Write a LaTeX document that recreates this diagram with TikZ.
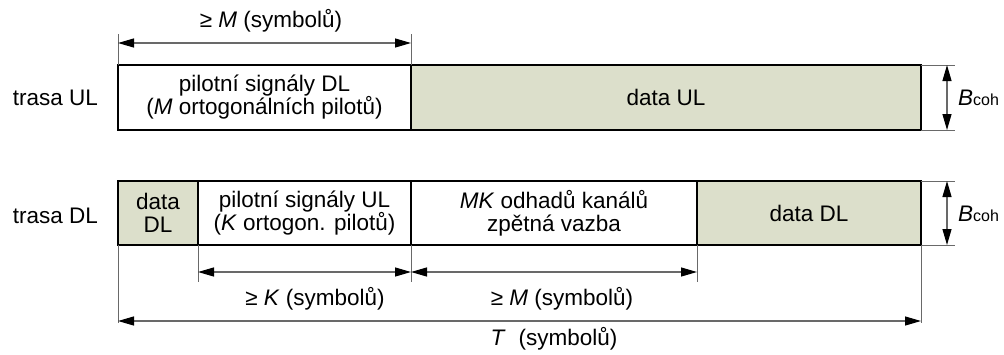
\documentclass[tikz,border=0pt]{standalone}
\usepackage{fontspec}
\setmainfont{Liberation Sans}
\usetikzlibrary{arrows.meta,calc}
\definecolor{datafill}{RGB}{220,223,203}
\definecolor{dimgray}{RGB}{105,105,105}
\begin{document}
\begin{tikzpicture}[x=1pt,y=-1pt,
  txt/.style={font=\fontsize{22.5}{23}\selectfont},
  box/.style={txt,draw=black,line width=2pt,anchor=north west,inner sep=0pt,outer sep=0pt,align=center},
  databox/.style={box,fill=datafill},
  lbl/.style={txt,inner sep=0pt},
  ext/.style={draw=dimgray,line width=1pt},
  dimarrow/.style={draw=dimgray,line width=1.2pt,{Triangle[length=16pt,width=9pt,black]}-{Triangle[length=16pt,width=9pt,black]}},
]
\useasboundingbox (0,0) rectangle (1004,354);

% UL row
\node[box,minimum width=293pt,minimum height=65pt] (ulp) at (118,65)
  {pilotní signály DL\\(\textit{M} ortogonálních pilotů)};
\node[databox,minimum width=510pt,minimum height=65pt] (uld) at (411,65) {data UL};

% DL row
\node[databox,minimum width=80pt,minimum height=64pt] (dla) at (118,181) {data\\DL};
\node[box,minimum width=213pt,minimum height=64pt] (dlp) at (198,181)
  {pilotní signály UL\\(\textit{K} ortogon. pilotů)};
\node[box,minimum width=286pt,minimum height=64pt] (mk) at (411,181)
  {\textit{MK} odhadů kanálů\\zpětná vazba};
\node[databox,minimum width=224pt,minimum height=64pt] (dlb) at (697,181) {data DL};

% row labels
\node[lbl,anchor=east] (tul) at ([xshift=-20pt]ulp.west) {trasa UL};
\node[lbl,anchor=east] (tdl) at ([xshift=-20pt,yshift=-3pt]dla.west) {trasa DL};

% top dimension
\draw[ext] (ulp.north west) -- ++(0,-31);
\draw[ext] (ulp.north east) -- ++(0,-31);
\draw[dimarrow] ([yshift=22pt]ulp.north west) -- ([yshift=22pt]ulp.north east);
\node[lbl,anchor=base] (lm1) at (271,27) {≥ \textit{M} (symbolů)};

% bottom dimensions
\draw[ext] (dla.south west) -- ++(0,78);
\draw[ext] (dlp.south west) -- ++(0,37);
\draw[ext] (mk.south west) -- ++(0,37);
\draw[ext] (mk.south east) -- ++(0,37);
\draw[ext] (dlb.south east) -- ++(0,78);
\draw[dimarrow] ([yshift=-27pt]dlp.south west) -- ([yshift=-27pt]dlp.south east);
\draw[dimarrow] ([yshift=-27pt]mk.south west) -- ([yshift=-27pt]mk.south east);
\draw[dimarrow] ([yshift=-76pt]dla.south west) -- ([yshift=-76pt]dlb.south east);
\node[lbl,anchor=base] (lk) at (315,305) {≥ \textit{K} (symbolů)};
\node[lbl,anchor=base] (lm2) at (562,305) {≥ \textit{M} (symbolů)};
\node[lbl,anchor=base] (lt) at (554,345) {\textit{T}\hspace{0.3em} (symbolů)};

% B_coh dimensions
\draw[ext] (uld.north east) -- ++(34,0) coordinate (b1);
\draw[ext] (uld.south east) -- ++(34,0) coordinate (b2);
\draw[dimarrow] ([xshift=-8pt]b1) -- ([xshift=-8pt]b2);
\node[lbl,anchor=base west] (bc1) at (958,105) {\textit{B}{\fontsize{16}{17}\selectfont coh}};
\draw[ext] (dlb.north east) -- ++(34,0) coordinate (b3);
\draw[ext] (dlb.south east) -- ++(34,0) coordinate (b4);
\draw[dimarrow] ([xshift=-8pt]b3) -- ([xshift=-8pt]b4);
\node[lbl,anchor=base west] (bc2) at (958,221) {\textit{B}{\fontsize{16}{17}\selectfont coh}};
\end{tikzpicture}
\end{document}
